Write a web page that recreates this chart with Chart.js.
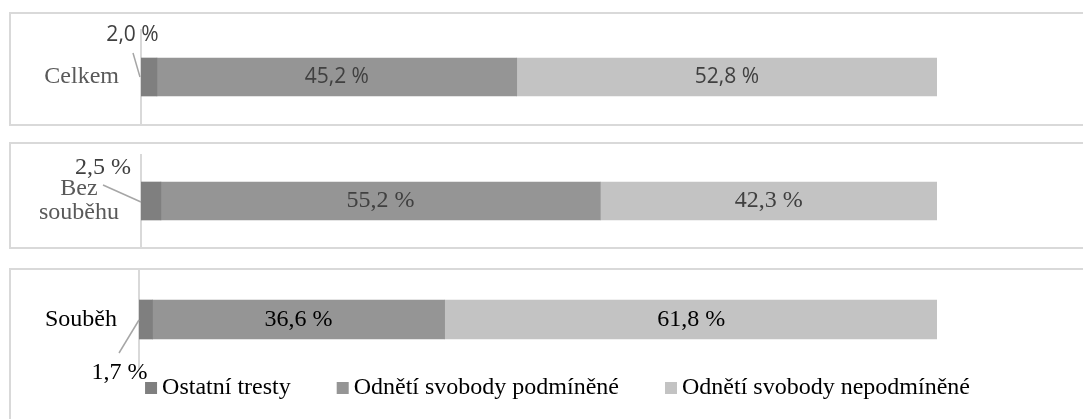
<!DOCTYPE html>
<html>
<head>
<meta charset="utf-8">
<script src="https://cdn.jsdelivr.net/npm/chart.js@4/dist/chart.umd.min.js"></script>
<style>
  html, body { margin: 0; padding: 0; background: #fff; overflow: hidden; }
  #wrap { position: relative; width: 1083px; height: 419px; overflow: hidden; }
  .box { position: absolute; left: 9px; width: 1200px; border: 2px solid #d9d9d9; box-sizing: border-box; }
  canvas { position: absolute; left: 0; }
</style>
</head>
<body>
<div id="wrap">
  <div class="box" style="top:12px;height:114px"></div>
  <div class="box" style="top:142px;height:107px"></div>
  <div class="box" style="top:268px;height:200px"></div>
  <canvas id="c0" width="1083" height="110" style="top:14px"></canvas>
  <canvas id="c1" width="1083" height="103" style="top:144px"></canvas>
  <canvas id="c2" width="1083" height="149" style="top:270px"></canvas>
</div>
<script>
// data
var categories = ['Celkem', ['Bez', 'souběhu'], 'Souběh'];
var seriesNames = ['Ostatní tresty', 'Odnětí svobody podmíněné', 'Odnětí svobody nepodmíněné'];
var ostatniTresty = [2.0, 2.5, 1.7];
var podminene = [45.2, 55.2, 36.6];
var nepodminene = [52.8, 42.3, 61.8];
var seriesColors = ['#7f7f7f', '#959595', '#c3c3c3'];

function fmt(v) {
    return v.toFixed(1).replace('.', ',') + ' %';
}

// popisky hodnot v pruzích (první malý segment s odkazovou čarou)
var barLabels = {
    id: 'barLabels',
    afterDatasetsDraw: function(chart, args, opts) {
        var ctx = chart.ctx;
        ctx.save();
        ctx.font = opts.font;
        ctx.fillStyle = opts.color;
        ctx.textAlign = 'center';
        ctx.textBaseline = 'middle';
        chart.data.datasets.forEach(function(ds, i) {
            var bar = chart.getDatasetMeta(i).data[0];
            var text = fmt(ds.data[0]);
            if (i === 0) {
                var c = opts.callout;
                ctx.strokeStyle = '#a6a6a6';
                ctx.lineWidth = 1.5;
                ctx.beginPath();
                ctx.moveTo(bar.base + c.from[0], bar.y + c.from[1]);
                ctx.lineTo(bar.base + c.to[0], bar.y + c.to[1]);
                ctx.stroke();
                ctx.fillText(text, bar.base + c.text[0], bar.y + c.text[1]);
            } else {
                ctx.fillText(text, (bar.x + bar.base) / 2, bar.y);
            }
        });
        ctx.restore();
    }
};

// legenda pod posledním grafem
var legendRow = {
    id: 'legendRow',
    afterDraw: function(chart, args, opts) {
        if (!opts.show) return;
        var ctx = chart.ctx;
        ctx.save();
        ctx.font = opts.font;
        ctx.textAlign = 'left';
        ctx.textBaseline = 'middle';
        var items = chart.data.datasets.map(function(ds) {
            return { text: ds.label, color: ds.backgroundColor, w: ctx.measureText(ds.label).width };
        });
        var total = opts.spacing * (items.length - 1);
        items.forEach(function(it) { total += opts.box + opts.gap + it.w; });
        var x = opts.centerX - total / 2;
        items.forEach(function(it) {
            ctx.fillStyle = it.color;
            ctx.fillRect(x, opts.y - opts.box / 2, opts.box, opts.box);
            ctx.fillStyle = opts.color;
            ctx.fillText(it.text, x + opts.box + opts.gap, opts.y);
            x += opts.box + opts.gap + it.w + opts.spacing;
        });
        ctx.restore();
    }
};

var panels = [
    { canvas: 'c0', axisWidth: 141, padTop: 16, padBottom: 0, thick: 38, tickColor: '#595959',
      labelFont: '21px "Open Sans"', labelColor: '#404040',
      callout: { text: [-8.5, -42], from: [-8, -24], to: [-1, 0] }, legend: false },
    { canvas: 'c1', axisWidth: 141, padTop: 11, padBottom: 0, thick: 38, tickColor: '#595959',
      labelFont: '24px "Liberation Serif"', labelColor: '#404040',
      callout: { text: [-38, -33], from: [-38, -16], to: [0, 1] }, legend: false },
    { canvas: 'c2', axisWidth: 139, padTop: 0, padBottom: 50, thick: 39, tickColor: '#000000',
      labelFont: '24px "Liberation Serif"', labelColor: '#000000',
      callout: { text: [-19.5, 53.5], from: [-20, 33.5], to: [0, 0.5] }, legend: true }
];

var seriesValues = [ostatniTresty, podminene, nepodminene];

panels.forEach(function(p, k) {
    var ctx = document.getElementById(p.canvas).getContext('2d');
    new Chart(ctx, {
        type: 'bar',
        data: {
            labels: [categories[k]],
            datasets: seriesNames.map(function(name, i) {
                return {
                    label: name,
                    data: [seriesValues[i][k]],
                    backgroundColor: seriesColors[i],
                    borderWidth: 0,
                    barThickness: p.thick
                };
            })
        },
        options: {
            indexAxis: 'y',
            responsive: false,
            animation: false,
            layout: { padding: { left: 0, right: 146, top: p.padTop, bottom: p.padBottom } },
            scales: {
                x: { stacked: true, display: false, min: 0, max: 100 },
                y: {
                    stacked: true,
                    grid: { display: false, drawTicks: false },
                    border: { display: true, color: '#d9d9d9', width: 2 },
                    ticks: {
                        color: p.tickColor,
                        font: { family: 'Liberation Serif', size: 24, lineHeight: 1 },
                        padding: 22,
                        crossAlign: 'center'
                    },
                    afterFit: function(s) {
                        s.width = p.axisWidth;
                        s.paddingTop = 0;
                        s.paddingBottom = 0;
                    }
                }
            },
            plugins: {
                legend: { display: false },
                tooltip: { enabled: false },
                barLabels: { font: p.labelFont, color: p.labelColor, callout: p.callout },
                legendRow: { show: p.legend, font: '24px "Liberation Serif"', color: '#000000',
                             box: 12, gap: 5, spacing: 46, centerX: 557.5, y: 118 }
            }
        },
        plugins: [barLabels, legendRow]
    });
});
</script>
</body>
</html>
